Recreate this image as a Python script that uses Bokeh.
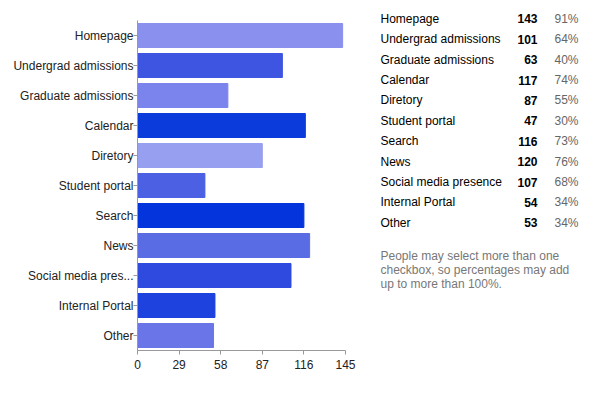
from bokeh.plotting import figure
from bokeh.models import Range1d, FixedTicker, ColumnDataSource, LinearAxis
from bokeh.core.properties import value
from bokeh.embed import file_html
from bokeh.resources import INLINE

# ---- data ----
categories = ["Homepage", "Undergrad admissions", "Graduate admissions", "Calendar",
              "Diretory", "Student portal", "Search", "News", "Social media presence",
              "Internal Portal", "Other"]
axis_labels = ["Homepage", "Undergrad admissions", "Graduate admissions", "Calendar",
               "Diretory", "Student portal", "Search", "News", "Social media pres...",
               "Internal Portal", "Other"]
counts = [143, 101, 63, 117, 87, 47, 116, 120, 107, 54, 53]
percents = ["91%", "64%", "40%", "74%", "55%", "30%", "73%", "76%", "68%", "34%", "34%"]
bar_colors = ["#8a90ee", "#3d55e0", "#7a84ec", "#0b3bdb", "#979ff0", "#4b60e3",
              "#0434db", "#5a6ce4", "#2e4adf", "#1e42dd", "#6a76e8"]
x_ticks = [0, 29, 58, 87, 116, 145]
note_lines = ["People may select more than one",
              "checkbox, so percentages may add",
              "up to more than 100%."]

FONT = "Liberation Sans"

# ---- layout (canvas px) ----
W, H = 600, 390
LEFT, TOP, BOTTOM = 137, 5, 350          # frame edges
BAR_W = 208                              # px spanned by 0..145
X_MAX = 145
FRAME_W = W - LEFT
N = len(categories)
BAND = 30.0
Y_TOP = (BOTTOM - TOP) / BAND            # frame height in category bands

ypos = [N - i - 0.5 for i in range(N)]   # Homepage at the top

src = ColumnDataSource(dict(y=ypos, val=counts, color=bar_colors))
p = figure(width=W, height=H, output_backend="svg", toolbar_location=None,
           x_range=Range1d(0, X_MAX * FRAME_W / BAR_W), y_range=Range1d(0, Y_TOP),
           min_border_left=LEFT, min_border_right=0, min_border_top=TOP,
           min_border_bottom=H - BOTTOM, x_axis_type=None, y_axis_type=None)
p.hbar(y="y", right="val", left=0, height=0.8, color="color", source=src)
p.outline_line_color = None
p.xgrid.visible = False
p.ygrid.visible = False

xaxis = LinearAxis(ticker=FixedTicker(ticks=x_ticks), bounds=(0, X_MAX))
yaxis = LinearAxis(ticker=FixedTicker(ticks=ypos), bounds=(0, N),
                   major_label_overrides={y: lab for y, lab in zip(ypos, axis_labels)})
for ax in (xaxis, yaxis):
    ax.axis_line_color = "#999999"
    ax.major_tick_line_color = "#999999"
    ax.minor_tick_line_color = None
    ax.major_tick_out = 4
    ax.major_tick_in = 0
    ax.major_label_text_font = FONT
    ax.major_label_text_font_size = "12px"
    ax.major_label_text_color = "#222222"
xaxis.major_label_standoff = 5
yaxis.major_label_standoff = 0
p.add_layout(xaxis, "below")
p.add_layout(yaxis, "left")

# ---- table: extra ranges in canvas pixels ----
p.extra_x_ranges = {"tx": Range1d(LEFT, W)}
p.extra_y_ranges = {"ty": Range1d(BOTTOM, TOP)}
row_y = [18.3 + i * 20.4 for i in range(N)]
name_x, count_x, pct_x = 380, 537, 578
t_common = dict(x_range_name="tx", y_range_name="ty", text_font=value(FONT),
                text_font_size="12px", text_baseline="middle")
p.text(x=[name_x] * N, y=row_y, text=categories, text_color="#000000",
       text_align="left", **t_common)
p.text(x=[count_x] * N, y=row_y, text=[str(c) for c in counts], text_color="#000000",
       text_align="right", text_font_style="bold", **t_common)
p.text(x=[pct_x] * N, y=row_y, text=percents, text_color="#666666",
       text_align="right", **t_common)
note_y = [255.5 + j * 14 for j in range(len(note_lines))]
p.text(x=[name_x] * len(note_lines), y=note_y, text=note_lines, text_color="#777777",
       text_align="left", **t_common)

open("out.html", "w").write(file_html(p, INLINE))
